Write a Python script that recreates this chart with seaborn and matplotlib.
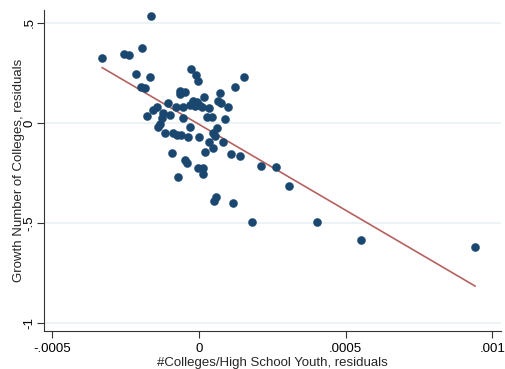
import numpy as np
import pandas as pd
import matplotlib
matplotlib.use("Agg")
import matplotlib.pyplot as plt
import seaborn as sns

# Residualized colleges-per-youth (x) and residualized growth in number of colleges (y)
colleges_per_youth_resid = [
    -0.000331, -0.000164, -0.000256, -0.000239, -0.000195, -0.000215, -0.000167,
    -0.000198, -0.000184, -0.000027, -0.000010, -0.000002, 0.000154, 0.000123,
    -0.000065, -0.000048, -0.000065, 0.000017, 0.000072, 0.000065, 0.000075,
    0.000099, -0.000106, -0.000078, -0.000055, -0.000020, -0.000007, 0.000000,
    -0.000014, -0.000031, 0.000010, 0.000034, -0.000143, -0.000157, -0.000177,
    -0.000123, -0.000126, -0.000133, -0.000140, -0.000099, -0.000055, 0.000027,
    0.000044, 0.000089, -0.000031, 0.000061, -0.000116, -0.000089, -0.000075,
    -0.000061, -0.000038, 0.000000, 0.000055, 0.000034, 0.000082, -0.000092,
    0.000020, 0.000048, 0.000109, 0.000140, 0.000212, 0.000263, -0.000048,
    -0.000041, -0.000002, 0.000014, 0.000014, -0.000072, 0.000307, 0.000051,
    0.000058, 0.000116, 0.000181, 0.000403, 0.000553, 0.000942, 0.000048,
]
growth_colleges_resid = [
    0.325, 0.535, 0.345, 0.340, 0.375, 0.245, 0.230, 0.180, 0.175, 0.270,
    0.240, 0.210, 0.230, 0.180, 0.160, 0.155, 0.145, 0.130, 0.150, 0.110,
    0.100, 0.080, 0.100, 0.080, 0.080, 0.110, 0.105, 0.090, 0.085, 0.090,
    0.080, 0.075, 0.080, 0.065, 0.035, 0.050, 0.025, -0.005, -0.020, 0.040,
    0.025, 0.030, 0.030, 0.020, -0.020, -0.025, -0.050, -0.050, -0.060,
    -0.060, -0.070, -0.070, -0.065, -0.095, -0.095, -0.150, -0.145, -0.125,
    -0.155, -0.165, -0.215, -0.220, -0.185, -0.200, -0.225, -0.225, -0.255,
    -0.270, -0.315, -0.390, -0.370, -0.400, -0.495, -0.495, -0.585, -0.620,
    -0.050,
]

x_ticks = [-0.0005, 0.0, 0.0005, 0.001]
x_tick_labels = ["-.0005", "0", ".0005", ".001"]
y_ticks = [-1.0, -0.5, 0.0, 0.5]
y_tick_labels = ["-1", "-.5", "0", ".5"]

df = pd.DataFrame({"x": colleges_per_youth_resid, "y": growth_colleges_resid})

sns.set_theme(style="white")
plt.rcParams["font.family"] = ["Liberation Sans", "DejaVu Sans"]

fig = plt.figure(figsize=(5.05, 3.69), dpi=100)
ax = fig.add_axes([0.0871, 0.103, 0.905, 0.870])

navy = "#1a476f"
line_col = "#b5625f"

for yt in y_ticks:
    ax.axhline(yt, color="#eaf2f3", lw=1.3, zorder=0)

sns.regplot(data=df, x="x", y="y", ci=None, scatter=False, ax=ax,
            line_kws={"color": line_col, "lw": 1.2, "zorder": 2})
sns.scatterplot(data=df, x="x", y="y", ax=ax, color=navy, s=34,
                edgecolor=navy, linewidth=0.3, zorder=3)

ax.set_xlim(-0.000529, 0.00103)
ax.set_ylim(-1.04, 0.565)

ax.set_xticks(x_ticks)
ax.set_xticklabels(x_tick_labels)
ax.set_yticks(y_ticks)
ax.set_yticklabels(y_tick_labels, rotation=90, va="center")

ax.tick_params(axis="both", which="both", direction="out", length=5, width=0.8,
               color="#333333", labelsize=9.5, labelcolor="black")
ax.tick_params(axis="x", bottom=True, pad=4)
ax.tick_params(axis="y", left=True, pad=1)

for side in ["top", "right"]:
    ax.spines[side].set_visible(False)
for side in ["left", "bottom"]:
    ax.spines[side].set_color("#333333")
    ax.spines[side].set_linewidth(0.8)

ax.set_xlabel("#Colleges/High School Youth, residuals", fontsize=9.5, labelpad=1)
ax.set_ylabel("Growth Number of Colleges, residuals", fontsize=9.5, labelpad=-1)

fig.savefig("out.png", dpi=100)
